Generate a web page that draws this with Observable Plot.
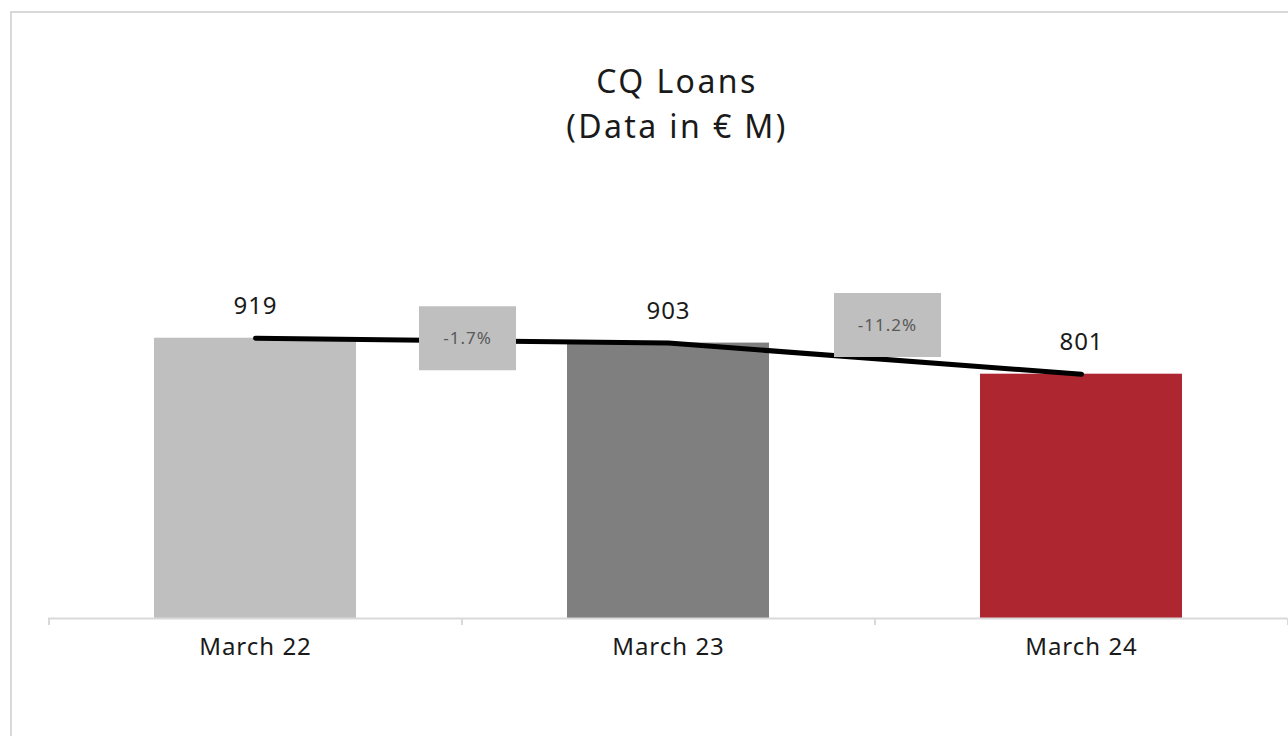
<!DOCTYPE html>
<html>
<head>
<meta charset="utf-8">
<script src="https://cdn.jsdelivr.net/npm/d3@7"></script>
<script src="https://cdn.jsdelivr.net/npm/@observablehq/plot@0.6"></script>
<style>
  html, body { margin: 0; padding: 0; background: #fff; overflow: hidden; }
  body { width: 1288px; height: 736px; position: relative; font-family: "Noto Sans", "Open Sans", sans-serif; }
  #frame { position: absolute; left: 10px; top: 11px; width: 1400px; height: 800px; border: 2px solid #d9d9d9; box-sizing: border-box; }
  #title { position: absolute; left: 277px; width: 800px; top: 58px; text-align: center; color: #1a1a1a; font-size: 32px; line-height: 45px; letter-spacing: 2.4px; }
  #chart { position: absolute; left: 0; top: 0; }
  #chart svg text { letter-spacing: 1px; }
</style>
</head>
<body>
<div id="frame"></div>
<div id="chart"></div>
<div id="title">CQ Loans<br>(Data in € M)</div>
<script>
// ---- data ----
const periods = ["March 22", "March 23", "March 24"];
const loans = [919, 903, 801];
const barColors = ["#bfbfbf", "#7f7f7f", "#ae262f"];
const changeLabels = ["-1.7%", "-11.2%"];
const changeTo = ["March 23", "March 24"];
const changeAnchor = [919, 903];

const data = periods.map((p, i) => ({period: p, value: loans[i], color: barColors[i]}));
const changes = changeLabels.map((c, i) => ({label: c, to: changeTo[i], anchor: changeAnchor[i]}));

// ---- style ----
const step = 413;
const boxDx = [-step / 2 + 5.5, -step / 2 + 12.5];
const boxDy = [0, -18];
const boxW = [97, 107];
const boxH = 64;
const rectSymbol = (w, h) => ({draw(ctx) { ctx.rect(-w / 2, -h / 2, w, h); }});

const boxMarks = changes.flatMap((c, i) => [
  Plot.dot([c], {x: "to", y: "anchor", dx: boxDx[i], dy: boxDy[i], symbol: rectSymbol(boxW[i], boxH), r: 10, fill: "#bfbfbf", stroke: "none"}),
  Plot.text([c], {x: "to", y: "anchor", dx: boxDx[i], dy: boxDy[i], text: "label", fill: "#595959", fontSize: 17})
]);

const chart = Plot.plot({
  width: 1288,
  height: 736,
  marginLeft: 48,
  marginRight: 1,
  marginTop: 313,
  marginBottom: 118,
  style: {fontFamily: "'Noto Sans', 'Open Sans', sans-serif", background: "transparent", overflow: "visible"},
  x: {domain: periods, paddingInner: 0.511, paddingOuter: 0.2555, label: null},
  y: {domain: [0, 1000], axis: null},
  marks: [
    Plot.barY(data, {x: "period", y: "value", fill: "color"}),
    Plot.ruleY([0], {stroke: "#d9d9d9", strokeWidth: 2}),
    Plot.ruleX(periods, {x: d => d, y1: 0, y2: 0, dx: -step / 2, insetBottom: -7, stroke: "#d9d9d9", strokeWidth: 2}),
    Plot.ruleX(periods.slice(-1), {x: d => d, y1: 0, y2: 0, dx: step / 2, insetBottom: -7, stroke: "#d9d9d9", strokeWidth: 2}),
    Plot.line(data, {x: "period", y: "value", stroke: "#000", strokeWidth: 5, strokeLinecap: "round"}),
    ...boxMarks,
    Plot.text(data, {x: "period", y: "value", text: d => String(d.value), dy: -32, fontSize: 24, fill: "#1a1a1a"}),
    Plot.axisX({tickSize: 0, tickPadding: 19, fontSize: 24, fill: "#1a1a1a"})
  ]
});
document.getElementById("chart").appendChild(chart);
</script>
</body>
</html>
